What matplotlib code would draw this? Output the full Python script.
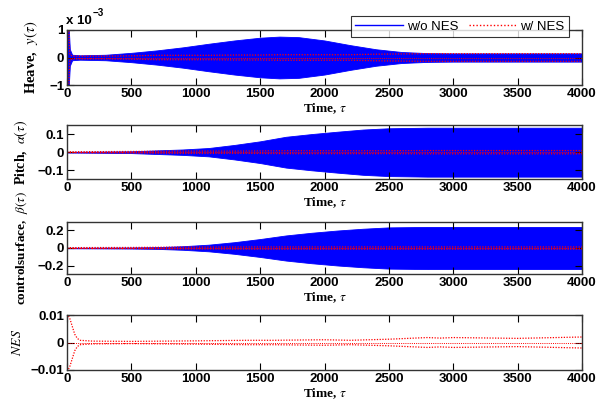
import matplotlib
matplotlib.use("Agg")
import matplotlib.pyplot as plt
import numpy as np
from matplotlib.lines import Line2D

plt.rcParams['mathtext.fontset'] = 'stix'

# ---------------- data (envelopes) ----------------
tau_heave = [0, 12, 22, 40, 100, 300, 500, 700, 900, 1100, 1300, 1500, 1650,
             1800, 2000, 2200, 2400, 2600, 2800, 3000, 3500, 4000]
heave_wo = [1.2, 1.2, 0.3, 0.1, 0.08, 0.1, 0.17, 0.26, 0.37, 0.5, 0.62, 0.72,
            0.76, 0.74, 0.62, 0.45, 0.3, 0.2, 0.16, 0.15, 0.15, 0.15]      # x1e-3
heave_w = [1.2, 1.2, 0.1, 0.05, 0.05, 0.05, 0.06, 0.08, 0.08, 0.08, 0.09, 0.09,
           0.1, 0.1, 0.1, 0.1, 0.12, 0.13, 0.14, 0.14, 0.14, 0.14]        # x1e-3

tau_pitch = [0, 200, 500, 700, 900, 1100, 1300, 1500, 1700, 1900, 2100, 2300,
             2500, 2800, 3200, 4000]
pitch_wo = [0.002, 0.003, 0.005, 0.01, 0.015, 0.023, 0.04, 0.06, 0.085, 0.1,
            0.113, 0.125, 0.132, 0.135, 0.135, 0.135]
pitch_w = [0.002, 0.003, 0.004, 0.005, 0.006, 0.006, 0.006, 0.007, 0.008,
           0.008, 0.008, 0.008, 0.008, 0.009, 0.009, 0.009]

tau_ctrl = [0, 200, 500, 700, 900, 1100, 1300, 1500, 1700, 1900, 2100, 2300,
            2500, 2800, 3200, 4000]
ctrl_wo = [0.003, 0.004, 0.006, 0.01, 0.02, 0.037, 0.065, 0.1, 0.14, 0.17,
           0.195, 0.215, 0.23, 0.235, 0.235, 0.235]
ctrl_w = [0.004, 0.005, 0.006, 0.008, 0.01, 0.01, 0.011, 0.012, 0.012, 0.012,
          0.012, 0.012, 0.012, 0.012, 0.012, 0.012]

tau_nes = [0, 20, 40, 60, 80, 100, 200, 500, 1000, 1400, 1500, 1600, 2000,
           2200, 2500, 2800, 2900, 3000, 3500, 4000]
nes_w = [0.0105, 0.009, 0.006, 0.003, 0.0015, 0.0008, 0.0005, 0.0004, 0.0006,
         0.0008, 0.0008, 0.0008, 0.001, 0.0008, 0.0012, 0.0018, 0.0016, 0.0018,
         0.0015, 0.002]

xticks = [0, 500, 1000, 1500, 2000, 2500, 3000, 3500, 4000]
legend_labels = ["w/o NES", "w/ NES"]

BLUE = '#0000ff'
RED = '#ff0000'

fig = plt.figure(figsize=(6.06, 4.09), dpi=100)
W, H = 606.0, 409.0
L, R = 67, 582

def make_ax(top, bot):
    return fig.add_axes([L / W, 1 - bot / H, (R - L) / W, (bot - top) / H])

ax1 = make_ax(30, 85)
ax2 = make_ax(125, 179)
ax3 = make_ax(222, 274)
ax4 = make_ax(315, 370)

tick_font = dict(family='Liberation Sans', weight='bold', size=9.5)

def style(ax, ylim, yticks, yticklabels, ylabel, lab_x, lab_size=10):
    ax.set_xlim(0, 4000)
    ax.set_ylim(*ylim)
    ax.set_xticks(xticks)
    ax.set_xticklabels([str(t) for t in xticks], **tick_font)
    ax.set_yticks(yticks)
    ax.set_yticklabels(yticklabels, **tick_font)
    ax.tick_params(direction='in', top=True, right=True, length=5, width=0.8,
                   pad=2, colors='black')
    for s in ax.spines.values():
        s.set_linewidth(1.0)
        s.set_color('#333333')
    ax.set_xlabel(r'Time, $\tau$', family='Liberation Serif', weight='bold',
                  size=9.5, labelpad=1)
    ax.set_ylabel(ylabel, family='Liberation Serif', weight='bold', size=lab_size)
    ax.yaxis.set_label_coords(lab_x, 0.5)

def band(ax, t, env, scale=1.0):
    e = np.asarray(env) * scale
    ax.fill_between(t, -e, e, color=BLUE, lw=0.6, edgecolor=BLUE)

def red(ax, t, env, scale=1.0):
    e = np.asarray(env) * scale
    ax.plot(t, e, color=RED, ls=(0, (1, 1.2)), lw=0.9)
    ax.plot(t, -e, color=RED, ls=(0, (1, 1.2)), lw=0.9)
    ax.plot(t, np.zeros_like(e), color=RED, ls=(0, (1, 1.2)), lw=0.7)

# Heave
band(ax1, tau_heave, heave_wo, 1e-3)
red(ax1, tau_heave, heave_w, 1e-3)
style(ax1, (-1e-3, 1e-3), [-1e-3, 0, 1e-3], ['\u22121', '0', '1'],
      r'Heave,  $y(\tau)$', -0.052, 10.5)

# Pitch
band(ax2, tau_pitch, pitch_wo)
red(ax2, tau_pitch, pitch_w)
style(ax2, (-0.148, 0.15), [-0.1, 0, 0.1], ['\u22120.1', '0', '0.1'],
      r'Pitch,  $\alpha(\tau)$', -0.072, 10)

# Control surface
band(ax3, tau_ctrl, ctrl_wo)
red(ax3, tau_ctrl, ctrl_w)
style(ax3, (-0.29, 0.29), [-0.2, 0, 0.2], ['\u22120.2', '0', '0.2'],
      r'controlsurface,  $\beta(\tau)$', -0.072, 9.5)

# NES
red(ax4, tau_nes, nes_w)
style(ax4, (-0.01, 0.01), [-0.01, 0, 0.01], ['\u22120.01', '0', '0.01'],
      r'$NES$', -0.083, 10)

# multiplier text
fig.text(66 / W, 1 - 24 / H, 'x 10', family='Liberation Sans', weight='bold',
         size=9.5, ha='left', va='baseline')
fig.text(93 / W, 1 - 16 / H, '\u22123', family='Liberation Sans', weight='bold',
         size=7, ha='left', va='baseline')

handles = [Line2D([], [], color=BLUE, lw=1.0),
           Line2D([], [], color=RED, lw=1.0, ls=(0, (1, 1.5)))]
leg = fig.legend(handles, legend_labels, loc='center', ncol=2,
                 bbox_to_anchor=(460 / W, 1 - 26.5 / H), frameon=True,
                 fancybox=False, handlelength=3.6, handletextpad=0.3,
                 columnspacing=0.8, borderpad=0.3,
                 prop=dict(family='Liberation Sans', size=9.5))
leg.get_frame().set_edgecolor('black')
leg.get_frame().set_linewidth(0.8)

fig.savefig('out.png', dpi=100)
